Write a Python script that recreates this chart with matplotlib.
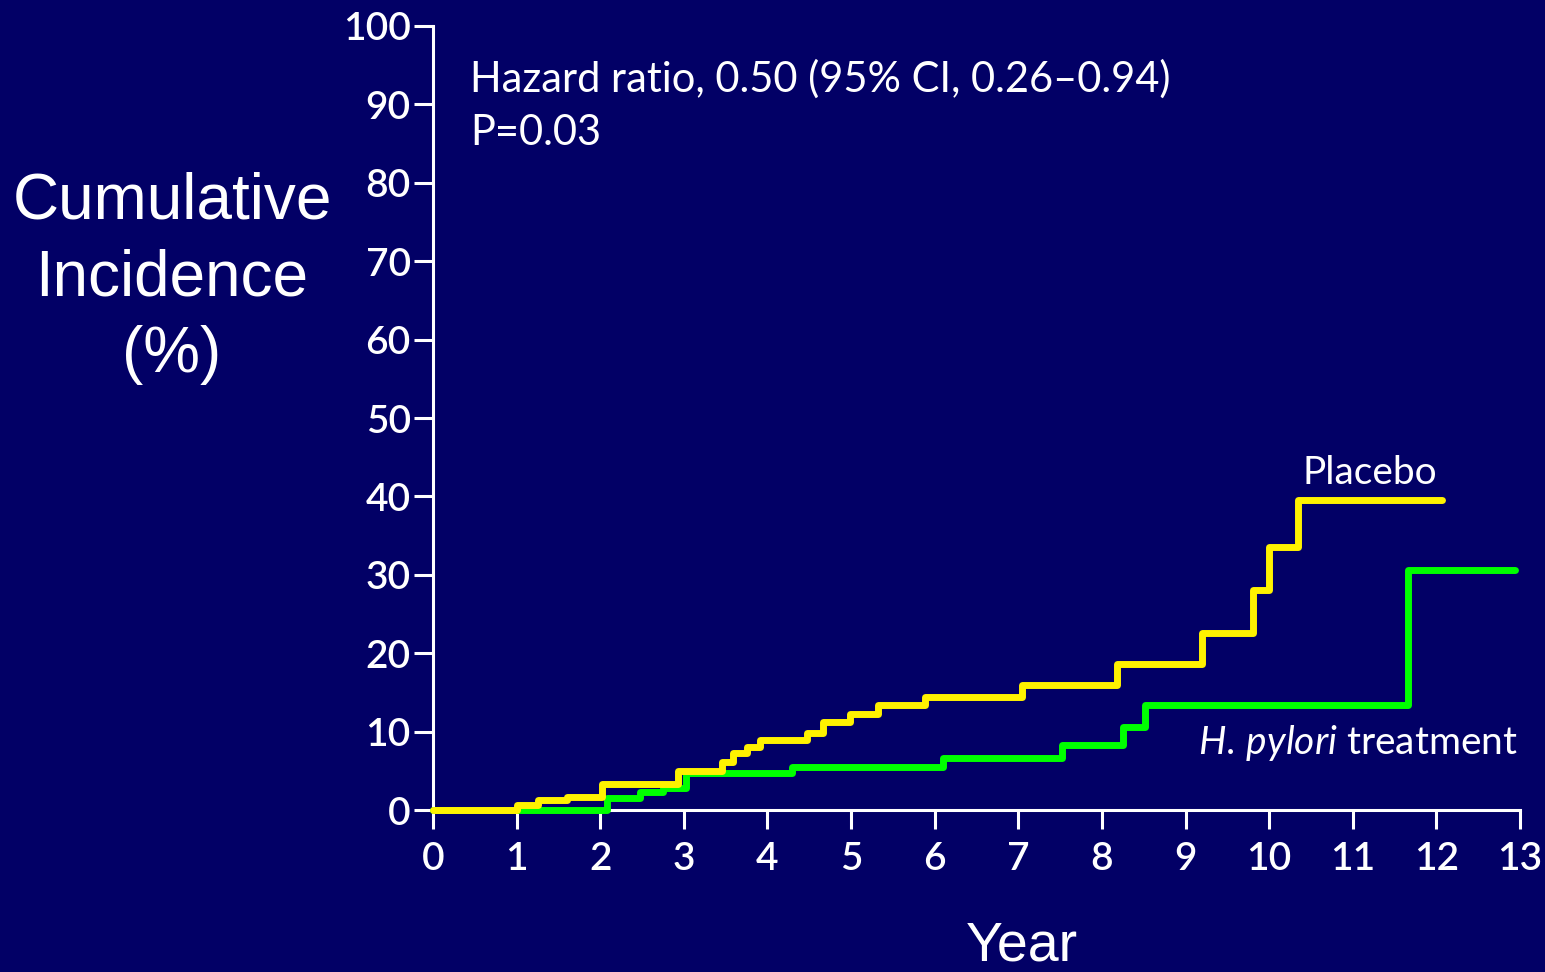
import matplotlib.pyplot as plt

plt.rcParams['mathtext.fontset'] = 'custom'
plt.rcParams['mathtext.it'] = 'Lato:italic'
plt.rcParams['mathtext.rm'] = 'Lato'

# data (years, cumulative incidence %)
placebo_t = [0, 1.0, 1.25, 1.6, 2.02, 2.93, 3.46, 3.59, 3.75, 3.91, 4.47, 4.66, 4.99,
             5.32, 5.88, 7.04, 8.18, 9.2, 9.81, 10.0, 10.35, 12.07]
placebo_v = [0, 0.6, 1.3, 1.7, 3.3, 5.0, 6.1, 7.3, 8.0, 8.9, 9.8, 11.2, 12.2,
             13.4, 14.4, 15.9, 18.6, 22.6, 28.1, 33.6, 39.6, 39.6]
hp_t = [0, 2.08, 2.48, 2.75, 3.02, 4.29, 6.1, 7.52, 8.25, 8.52, 11.66, 12.94]
hp_v = [0, 1.5, 2.3, 2.8, 4.7, 5.5, 6.6, 8.3, 10.6, 13.4, 30.6, 30.6]

x_ticks = list(range(0, 14))
y_ticks = list(range(0, 101, 10))

bg = '#020066'
fig = plt.figure(figsize=(15.45, 9.72), dpi=100, facecolor=bg)
ax = fig.add_axes([433/1545, 1 - 810/972, (1520-433)/1545, (810-26)/972])
ax.set_facecolor(bg)

ax.step(placebo_t, placebo_v, where='post', color='#FFF200', lw=5,
        solid_capstyle='round', solid_joinstyle='round', clip_on=False, zorder=5)
ax.step(hp_t, hp_v, where='post', color='#00FF00', lw=5,
        solid_capstyle='round', solid_joinstyle='round', clip_on=False, zorder=4)

ax.set_xlim(0, 13)
ax.set_ylim(0, 100)
ax.set_xticks(x_ticks)
ax.set_yticks(y_ticks)

for s in ['top', 'right']:
    ax.spines[s].set_visible(False)
for s in ['left', 'bottom']:
    ax.spines[s].set_color('white')
    ax.spines[s].set_linewidth(2.2)

ax.tick_params(axis='both', colors='white', width=2.2, length=14, direction='out')
ax.tick_params(axis='y', pad=2)
ax.tick_params(axis='x', pad=8)
for lab in ax.get_xticklabels() + ax.get_yticklabels():
    lab.set_fontfamily('Lato')
    lab.set_fontweight('semibold')
    lab.set_fontsize(28)
    lab.set_color('white')

fig.text(172/1545, 1 - 278/972, 'Cumulative\nIncidence\n(%)', color='white',
         fontsize=46, family='Liberation Sans', ha='center', va='center',
         linespacing=1.36)
fig.text(1022/1545, 1 - 960/972, 'Year', color='white', fontsize=40,
         family='Liberation Sans', ha='center', va='baseline')

ax.text(0.44, 91.6, 'Hazard ratio, 0.50 (95% CI, 0.26\u20130.94)', color='white',
        fontsize=30, family='Lato', va='baseline')
ax.text(0.44, 84.8, 'P=0.03', color='white', fontsize=30, family='Lato', va='baseline')

ax.text(11.2, 41.6, 'Placebo', color='white', fontsize=28, family='Lato', ha='center',
        va='baseline')
ax.text(12.97, 7.2, r'$\it{H.\,pylori}$ treatment', color='white', fontsize=28,
        family='Lato', ha='right', va='baseline')

fig.savefig('out.png', dpi=100, facecolor=bg)
